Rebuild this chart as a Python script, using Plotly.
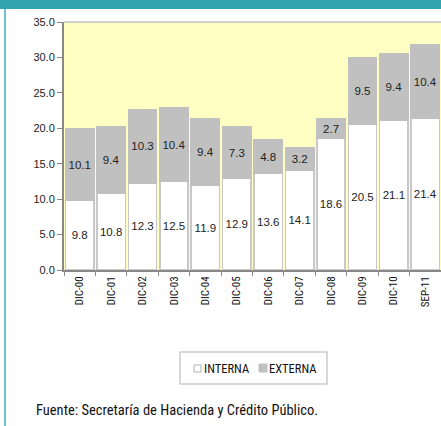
import plotly.graph_objects as go

categories = ["DIC-00", "DIC-01", "DIC-02", "DIC-03", "DIC-04", "DIC-05",
              "DIC-06", "DIC-07", "DIC-08", "DIC-09", "DIC-10", "SEP-11"]
interna = [9.8, 10.8, 12.3, 12.5, 11.9, 12.9, 13.6, 14.1, 18.6, 20.5, 21.1, 21.4]
externa = [10.1, 9.4, 10.3, 10.4, 9.4, 7.3, 4.8, 3.2, 2.7, 9.5, 9.4, 10.4]
y_ticks = [0, 5, 10, 15, 20, 25, 30, 35]
series_names = ["INTERNA", "EXTERNA"]
series_colors = ["#ffffff", "#c0c0c0"]

W, H = 441, 426
L, R, T, B = 64, 0, 22, 156
pw = W - L - R
ph = H - T - B

def px_x(x):
    return (x - L) / pw

def px_y(y):
    return (H - B - y) / ph

narrow = "Liberation Sans Narrow, Arial Narrow, Roboto Condensed, sans-serif"
label_font = dict(family="Liberation Sans, Arial, sans-serif", size=11.5, color="#222222")

fig = go.Figure()
for name, vals, col, edge in [(series_names[0], interna, series_colors[0], "#c8c8c8"),
                              (series_names[1], externa, series_colors[1], "#c0c0c0")]:
    fig.add_trace(go.Bar(
        x=categories, y=vals, name=name,
        marker=dict(color=col, line=dict(color=edge, width=1.5)),
        text=[f"{v:.1f}" for v in vals], textposition="inside",
        insidetextanchor="middle", textfont=label_font, constraintext="none",
        textangle=0, showlegend=False,
    ))

shapes = [
    dict(type="rect", xref="paper", yref="paper", x0=px_x(-2), x1=px_x(W + 5),
         y0=px_y(9), y1=px_y(-2), fillcolor="#34a3b0", line=dict(width=0), layer="above"),
    dict(type="rect", xref="paper", yref="paper", x0=px_x(4), x1=px_x(6),
         y0=px_y(H + 2), y1=px_y(9), fillcolor="#6fc3cb", line=dict(width=0), layer="above"),
    dict(type="line", xref="paper", yref="paper", x0=0, x1=1, y0=1, y1=1,
         line=dict(color="#c4c4c4", width=1.5), layer="above"),
    # legend box
    dict(type="rect", xref="paper", yref="paper", x0=px_x(180), x1=px_x(327),
         y0=px_y(384), y1=px_y(352), fillcolor="#ffffff", line=dict(color="#cccccc", width=1.5)),
    # legend swatches
    dict(type="rect", xref="paper", yref="paper", x0=px_x(194), x1=px_x(201),
         y0=px_y(372), y1=px_y(365), fillcolor=series_colors[0], line=dict(color="#b0b0b0", width=1)),
    dict(type="rect", xref="paper", yref="paper", x0=px_x(259), x1=px_x(267),
         y0=px_y(372), y1=px_y(364), fillcolor=series_colors[1], line=dict(color=series_colors[1], width=1)),
]

annotations = [
    dict(text="Fuente: Secretaría de Hacienda y Crédito Público.", xref="paper", yref="paper",
         x=px_x(34), y=px_y(410), xanchor="left", yanchor="middle", showarrow=False,
         font=dict(family=narrow, size=14.5, color="#111111")),
    dict(text=series_names[0], xref="paper", yref="paper", x=px_x(202), y=px_y(368.5),
         xanchor="left", yanchor="middle", showarrow=False,
         font=dict(family=narrow, size=12.5, color="#111111")),
    dict(text=series_names[1], xref="paper", yref="paper", x=px_x(267), y=px_y(368.5),
         xanchor="left", yanchor="middle", showarrow=False,
         font=dict(family=narrow, size=12.5, color="#111111")),
]

fig.update_layout(
    width=W, height=H,
    margin=dict(l=L, r=R, t=T, b=B),
    barmode="stack", bargap=0.1,
    plot_bgcolor="#ffffc4", paper_bgcolor="#ffffff",
    showlegend=False,
    xaxis=dict(type="category", tickangle=-90, tickson="boundaries", ticks="outside", ticklen=4,
               tickcolor="#888888", showline=True, linecolor="#888888", linewidth=2,
               tickfont=dict(family=narrow, size=11, color="#111111"),
               showgrid=False),
    yaxis=dict(range=[0, 35], tickvals=y_ticks, ticktext=[f"{v:.1f}" for v in y_ticks],
               ticks="outside", ticklen=5, tickcolor="#888888", showline=True, linecolor="#888888",
               linewidth=2, showgrid=False, zeroline=False,
               tickfont=dict(family="Liberation Sans, Arial, sans-serif", size=11, color="#222222")),
    shapes=shapes,
    annotations=annotations,
)

fig.write_html("out.html", config={"displayModeBar": False},
               post_script="document.body.style.margin='0';document.body.style.overflow='hidden';")
